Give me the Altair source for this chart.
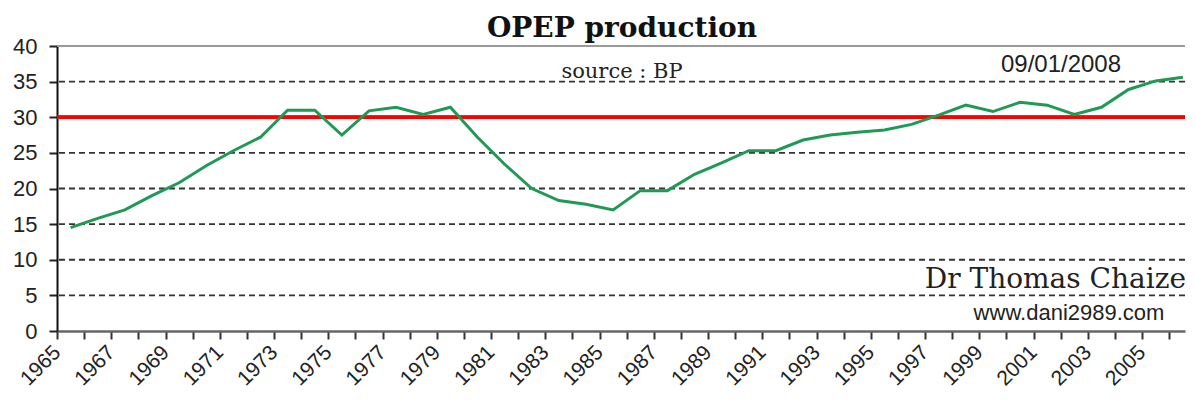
import altair as alt
import pandas as pd

years = list(range(1965, 2007))
production = [14.5, 15.8, 17.0, 19.0, 20.8, 23.2, 25.3, 27.2, 31.0, 31.0,
              27.5, 30.9, 31.4, 30.4, 31.4, 27.2, 23.4, 20.0, 18.3, 17.8,
              17.0, 19.7, 19.7, 22.0, 23.6, 25.3, 25.3, 26.8, 27.5, 27.9,
              28.2, 29.0, 30.3, 31.7, 30.8, 32.1, 31.7, 30.4, 31.4, 33.9,
              35.1, 35.6]
grid_values = [5, 10, 15, 20, 25, 30, 35]
y_ticks = [0, 5, 10, 15, 20, 25, 30, 35, 40]
x_ticks = [y - 0.5 for y in years]
reference_level = 30
top_level = 40

df = pd.DataFrame({"year": years, "value": production})
grid_df = pd.DataFrame({"g": grid_values})

y_scale = alt.Scale(domain=[0, 40], nice=False, zero=True)
y_axis = alt.Axis(values=y_ticks, title=None, grid=False,
                  labelFont="Liberation Sans", labelFontSize=22, labelColor="#222",
                  labelPadding=12, tickSize=8, tickColor="#222", tickWidth=2,
                  domainColor="#111", domainWidth=2)
x_scale = alt.Scale(domain=[1964.5, 2006.08], nice=False, zero=False)
x_axis = alt.Axis(values=x_ticks, title=None, grid=False,
                  labelExpr="(datum.value + 0.5) % 2 == 1 ? format(datum.value + 0.5, 'd') : ''",
                  labelAngle=-45, labelAlign="right", labelBaseline="middle",
                  labelFont="Liberation Sans", labelFontSize=21, labelColor="#222",
                  labelPadding=10, labelOverlap=False, labelBound=False, labelFlush=False,
                  tickSize=8, tickColor="#333", tickWidth=2,
                  domainColor="#666", domainWidth=2.5)

grid = alt.Chart(grid_df).mark_rule(color="#333", strokeWidth=1.8, strokeDash=[6, 4]).encode(
    y=alt.Y("g:Q", scale=y_scale, axis=y_axis)
)
top = alt.Chart(grid_df).mark_rule(color="#9a9a9a", strokeWidth=2).encode(
    y=alt.Y(datum=top_level, scale=y_scale, axis=y_axis)
)
red = alt.Chart(grid_df).mark_rule(color="#ff0000", strokeWidth=3).encode(
    y=alt.Y(datum=reference_level, scale=y_scale, axis=y_axis)
)
line = alt.Chart(df).mark_line(color="#1f9a55", strokeWidth=3).encode(
    x=alt.X("year:Q", scale=x_scale, axis=x_axis),
    y=alt.Y("value:Q", scale=y_scale, axis=y_axis),
)

one = pd.DataFrame({"a": [0]})
def label(text, x, y, font, size, weight="normal", align="center", color="#1a1a1a"):
    return alt.Chart(one).mark_text(text=text, font=font, fontSize=size, fontWeight=weight,
                                    align=align, baseline="alphabetic", color=color).encode(
        x=alt.value(x), y=alt.value(y))

title = label("OPEP production", 565, -9.5, "DejaVu Serif", 28, weight="bold", color="#111")
source = label("source : BP", 565, 32, "DejaVu Serif", 21, color="#222")
date = label("09/01/2008", 1004, 26, "Liberation Sans", 24, color="#222")
author = label("Dr Thomas Chaize", 1129, 242, "DejaVu Serif", 28, align="right", color="#222")
site = label("www.dani2989.com", 1012, 274, "Liberation Sans", 22, color="#222")

chart = alt.layer(grid, top, red, line, title, source, date, author, site).properties(
    width=1128, height=285,
    autosize=alt.AutoSizeParams(type="none"),
    padding={"left": 49, "top": 38, "right": 2, "bottom": 64},
).configure_view(stroke=None)

chart.save("out.html", embed_options={"renderer": "svg", "actions": False})
